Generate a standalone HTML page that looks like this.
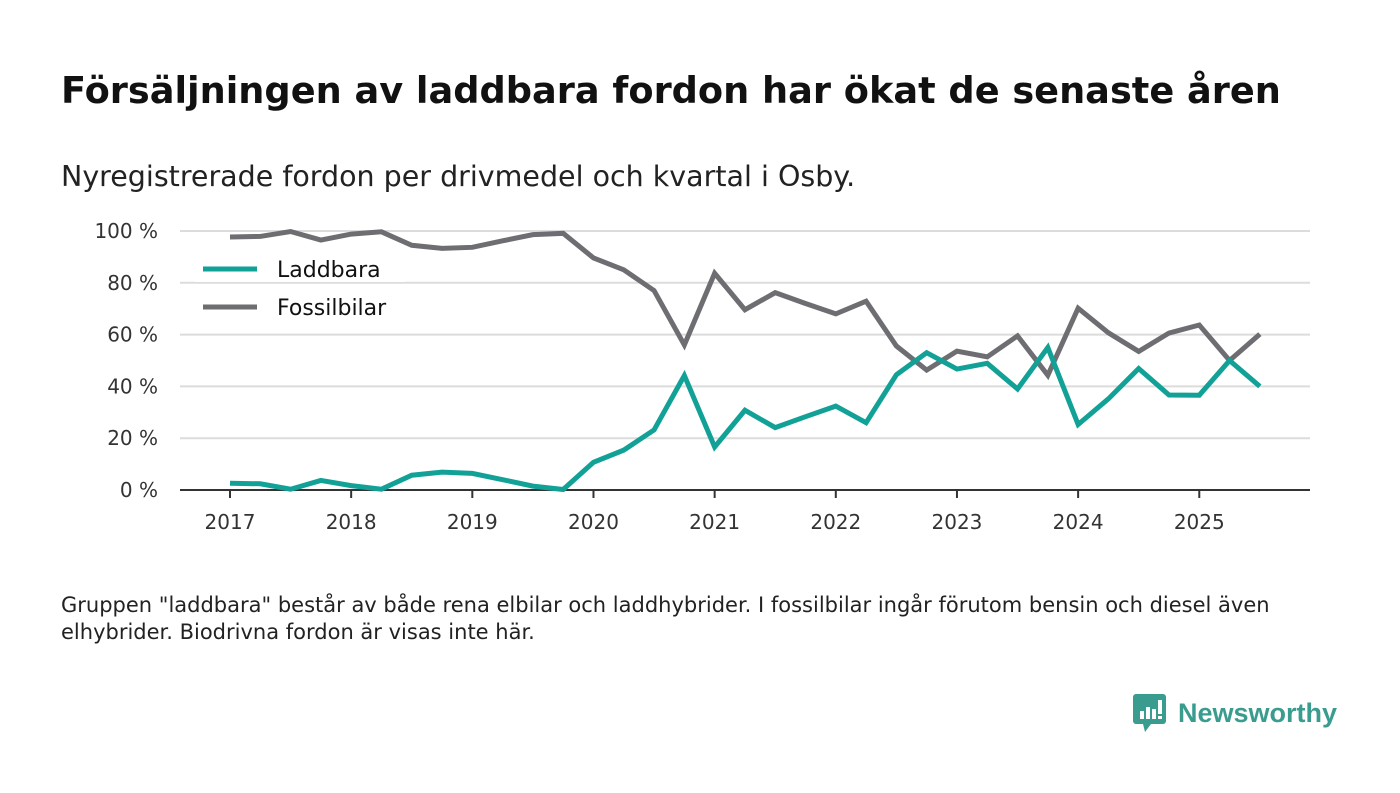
<!DOCTYPE html>
<html><head><meta charset="utf-8"><style>
body{margin:0;width:1400px;height:793px;background:#fff;font-family:"DejaVu Sans","Liberation Sans",sans-serif;overflow:hidden;position:relative;color:#111}
.t{position:absolute;left:61px;top:69px;font-size:36.7px;font-weight:bold;margin:0;white-space:nowrap}
.s{position:absolute;left:61px;top:160px;font-size:28.5px;color:#222;white-space:nowrap}
.f{position:absolute;left:61px;top:592px;font-size:21px;line-height:27px;width:1240px;color:#222}
</style></head><body>
<h1 class="t">Försäljningen av laddbara fordon har ökat de senaste åren</h1>
<div class="s">Nyregistrerade fordon per drivmedel och kvartal i Osby.</div>
<svg id="c" width="1400" height="793" style="position:absolute;left:0;top:0"></svg>
<div class="f">Gruppen "laddbara" består av både rena elbilar och laddhybrider. I fossilbilar ingår förutom bensin och diesel även elhybrider. Biodrivna fordon är visas inte här.</div>
<div style="position:absolute;left:1133px;top:692px;display:flex;align-items:center">
<svg width="34" height="42"><rect x="0" y="2" width="33" height="30" rx="3" fill="#3a9c8f"/><polygon points="10,32 18,32 12,40" fill="#3a9c8f"/><rect x="7" y="19" width="4" height="8" fill="#fff"/><rect x="13" y="15" width="4" height="12" fill="#fff"/><rect x="19" y="17" width="4" height="10" fill="#fff"/><rect x="25" y="8" width="4" height="14" fill="#fff"/><rect x="25" y="24" width="4" height="3" fill="#fff"/></svg>
<span style="font-family:'Liberation Sans',sans-serif;font-size:27px;color:#3a9c8f;font-weight:bold;margin-left:11px">Newsworthy</span></div>
<script>
const years=["2017","2018","2019","2020","2021","2022","2023","2024","2025"];
const yTicks=[0,20,40,60,80,100];
const laddbara=[2.6,2.4,0.3,3.7,1.7,0.3,5.7,6.9,6.4,4,1.5,0.2,10.7,15.4,23.2,44.2,16.6,30.8,24.1,28.3,32.4,26.0,44.5,53,46.7,48.9,39.0,55.0,25.3,35.2,46.9,36.7,36.6,50.0,40.0];
const fossil=[97.7,97.9,99.8,96.5,98.8,99.7,94.5,93.3,93.7,96.2,98.6,99.1,89.6,85,77,56,83.7,69.6,76.2,72,68,72.9,55.6,46.3,53.6,51.4,59.5,44.3,70.2,60.7,53.5,60.6,63.7,50,60.2];
const NS="http://www.w3.org/2000/svg",svg=document.getElementById('c');
const X=q=>230+q*30.29, Y=v=>490-v*2.59;
function el(t,a,p){const e=document.createElementNS(NS,t);for(const k in a)e.setAttribute(k,a[k]);(p||svg).appendChild(e);return e;}
yTicks.forEach(v=>{
 if(v>0){const g=el('line',{x1:180,x2:1310,y1:Y(v),y2:Y(v),stroke:'#dcdcdc','stroke-width':2});
 
 }
 const t=el('text',{x:158,y:Y(v)+7,'text-anchor':'end','font-size':20,fill:'#333'});t.textContent=v+' %';
 
 
});
const ax=el('line',{x1:180,x2:1310,y1:490,y2:490,stroke:'#333','stroke-width':2});


years.forEach((y,i)=>{const x=X(i*4);
 const tk=el('line',{x1:x,x2:x,y1:490,y2:498,stroke:'#333','stroke-width':2});
 
 
 const t=el('text',{x:x,y:529,'text-anchor':'middle','font-size':20,fill:'#333'});t.textContent=y;
 
 
});
function line(d,c,n){const p=el('polyline',{points:d.map((v,i)=>X(i)+','+Y(v)).join(' '),fill:'none',stroke:c,'stroke-width':5,'stroke-linejoin':'miter'});
 
 }
line(fossil,'#6e6e72','fossilbilar-line');
line(laddbara,'#12a197','laddbara-line');
const lg=el('g',{});


el('rect',{x:195,y:254,width:210,height:28,fill:'#fff'},lg);
el('rect',{x:195,y:284,width:210,height:40,fill:'#fff'},lg);
[['Laddbara','#12a197',269],['Fossilbilar','#6e6e72',307]].forEach(([n,c,y])=>{
 const g=el('g',{},lg);
 
 
 el('line',{x1:203,x2:257,y1:y,y2:y,stroke:c,'stroke-width':5},g);
 const t=el('text',{x:277,y:y+8,'font-size':22,fill:'#111'},g);t.textContent=n;
});
</script>
</body></html>
